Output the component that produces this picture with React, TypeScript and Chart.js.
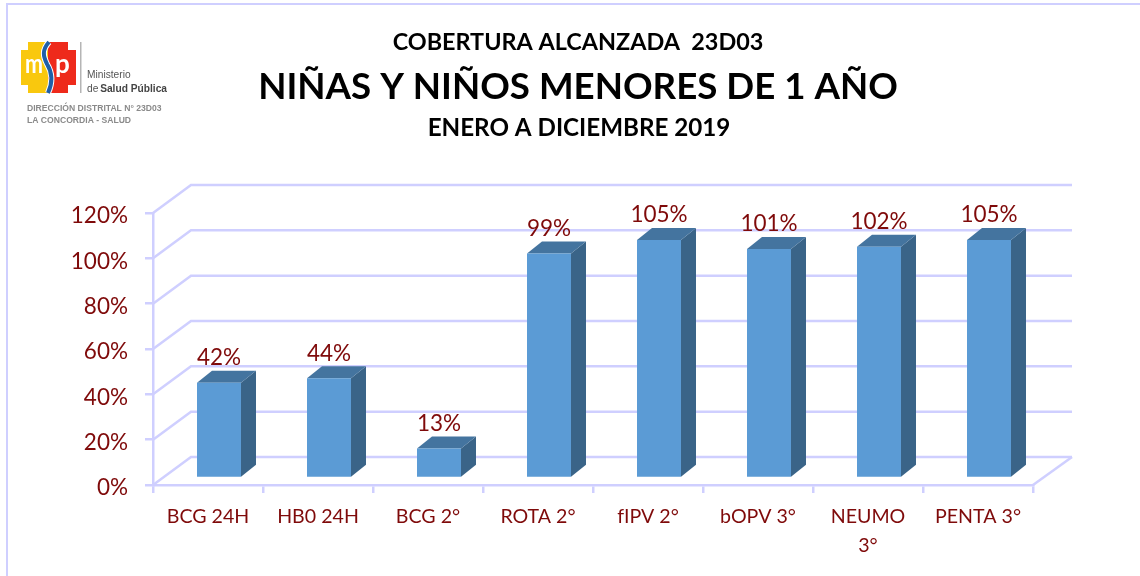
import React, { useEffect, useRef } from "react";
import { Chart, registerables } from "chart.js";

Chart.register(...registerables);

const categories: (string | string[])[] = ["BCG 24H", "HB0 24H", "BCG 2°", "ROTA 2°", "fIPV 2°", "bOPV 3°", ["NEUMO", "3°"], "PENTA 3°"];
const coverage = [42, 44, 13, 99, 105, 101, 102, 105];
const titleLine1 = "COBERTURA ALCANZADA  23D03";
const titleLine2 = "NIÑAS Y NIÑOS MENORES DE 1 AÑO";
const titleLine3 = "ENERO A DICIEMBRE 2019";
const logoLines = ["Ministerio", "de ", "Salud Pública", "DIRECCIÓN DISTRITAL N° 23D03", "LA CONCORDIA - SALUD"];

const GRID = "#CFCFFF";
const TEXT = "#7F0A0A";
const FRONT = "#5B9BD5";
const TOP = "#44749F";
const SIDE = "#3A6488";
const WALL_DX = 38;
const WALL_DY = -28;
const BAR_DX = 11;
const BAR_DY = -7;
const DEPTH_X = 15;
const DEPTH_Y = -12;
const FONT = "Lato, Carlito, sans-serif";

function drawLogo(ctx: CanvasRenderingContext2D) {
  ctx.save();
  const outline = (x0: number, x1: number, left: boolean) => {
    ctx.beginPath();
    if (left) {
      ctx.moveTo(x1, 42); ctx.lineTo(28, 42); ctx.lineTo(28, 50); ctx.lineTo(21, 50);
      ctx.lineTo(21, 85); ctx.lineTo(28, 85); ctx.lineTo(28, 93); ctx.lineTo(x1, 93);
    } else {
      ctx.moveTo(x0, 42); ctx.lineTo(68, 42); ctx.lineTo(68, 50); ctx.lineTo(76, 50);
      ctx.lineTo(76, 85); ctx.lineTo(68, 85); ctx.lineTo(68, 93); ctx.lineTo(x0, 93);
    }
    ctx.closePath();
    ctx.fill();
  };
  ctx.fillStyle = "#F9C80E";
  outline(21, 48, true);
  ctx.fillStyle = "#EE2A1B";
  outline(48, 76, false);
  const sCurve = () => {
    ctx.beginPath();
    ctx.moveTo(49, 42);
    ctx.bezierCurveTo(42, 50, 43, 56, 47, 64);
    ctx.bezierCurveTo(52, 72, 53, 82, 48, 93);
    ctx.stroke();
  };
  ctx.strokeStyle = "#FFFFFF";
  ctx.lineWidth = 6;
  sCurve();
  ctx.strokeStyle = "#1F5FA8";
  ctx.lineWidth = 4;
  sCurve();
  ctx.fillStyle = "#FFFFFF";
  ctx.textAlign = "left";
  ctx.textBaseline = "alphabetic";
  ctx.font = `bold 26px ${FONT}`;
  ctx.fillText("m", 25, 73, 18);
  ctx.fillText("p", 55, 73, 15);

  ctx.fillStyle = "#B5B5B5";
  ctx.fillRect(80, 42, 1.5, 51);

  ctx.fillStyle = "#555555";
  ctx.font = `10.2px "Liberation Sans", sans-serif`;
  ctx.fillText(logoLines[0], 87, 78);
  ctx.fillText(logoLines[1], 87, 92);
  const w = ctx.measureText(logoLines[1]).width;
  ctx.font = `bold 10.2px "Liberation Sans", sans-serif`;
  ctx.fillStyle = "#444444";
  ctx.fillText(logoLines[2], 87 + w - 1, 92);
  ctx.fillStyle = "#8A8A8A";
  ctx.font = `bold 8.6px "Liberation Sans", sans-serif`;
  ctx.fillText(logoLines[3], 27, 111);
  ctx.fillText(logoLines[4], 27, 123);
  ctx.restore();
}

const decorPlugin = {
  id: "decor",
  beforeDraw(chart: any) {
    const ctx: CanvasRenderingContext2D = chart.ctx;
    ctx.save();
    ctx.fillStyle = "#FFFFFF";
    ctx.fillRect(0, 0, chart.width, chart.height);
    ctx.fillStyle = GRID;
    ctx.fillRect(6, 3, chart.width - 6, 2);
    ctx.fillRect(6, 3, 2, chart.height - 3);
    ctx.fillStyle = "#000000";
    ctx.textAlign = "center";
    ctx.textBaseline = "middle";
    ctx.font = `bold 23.4px ${FONT}`;
    ctx.fillText(titleLine1, 578, 42);
    ctx.font = `bold 36.7px ${FONT}`;
    ctx.fillText(titleLine2, 578, 87);
    ctx.font = `bold 24.2px ${FONT}`;
    ctx.fillText(titleLine3, 579, 128);
    ctx.restore();
    drawLogo(ctx);
  },
  beforeDatasetsDraw(chart: any) {
    const ctx: CanvasRenderingContext2D = chart.ctx;
    const y = chart.scales.y;
    const { left, right, bottom } = chart.chartArea;
    ctx.save();
    ctx.strokeStyle = GRID;
    ctx.lineWidth = 2.5;
    y.ticks.forEach((t: any) => {
      const py = y.getPixelForValue(t.value);
      ctx.beginPath();
      ctx.moveTo(left, py);
      ctx.lineTo(left + WALL_DX, py + WALL_DY);
      ctx.lineTo(right + WALL_DX + 1, py + WALL_DY);
      ctx.stroke();
    });
    ctx.beginPath();
    ctx.moveTo(right, bottom);
    ctx.lineTo(right + WALL_DX + 1, bottom + WALL_DY);
    ctx.stroke();

    // side and top faces of each bar, from the bar elements
    chart.getDatasetMeta(0).data.forEach((bar: any) => {
      const { x, y: top, base, width } = bar.getProps(["x", "y", "base", "width"], true);
      const x1 = x + width / 2 + BAR_DX;
      const x0 = x - width / 2 + BAR_DX;
      const yt = top + BAR_DY;
      const yb = base + BAR_DY;
      ctx.fillStyle = SIDE;
      ctx.beginPath();
      ctx.moveTo(x1, yt);
      ctx.lineTo(x1 + DEPTH_X, yt + DEPTH_Y);
      ctx.lineTo(x1 + DEPTH_X, yb + DEPTH_Y);
      ctx.lineTo(x1, yb);
      ctx.closePath();
      ctx.fill();
      ctx.fillStyle = TOP;
      ctx.beginPath();
      ctx.moveTo(x0, yt);
      ctx.lineTo(x0 + DEPTH_X, yt + DEPTH_Y);
      ctx.lineTo(x1 + DEPTH_X, yt + DEPTH_Y);
      ctx.lineTo(x1, yt);
      ctx.closePath();
      ctx.fill();
    });
    ctx.restore();
    ctx.save();
    ctx.translate(BAR_DX, BAR_DY);
  },
  afterDatasetsDraw(chart: any) {
    const ctx: CanvasRenderingContext2D = chart.ctx;
    ctx.restore();
    ctx.save();
    ctx.fillStyle = TEXT;
    ctx.font = `22.5px ${FONT}`;
    ctx.textAlign = "center";
    ctx.textBaseline = "middle";
    chart.getDatasetMeta(0).data.forEach((bar: any, i: number) => {
      const { x, y } = bar.getProps(["x", "y"], true);
      ctx.fillText(`${coverage[i]}%`, x + BAR_DX, y + BAR_DY - 25);
    });
    ctx.restore();
  },
};

export default function App() {
  const ref = useRef<HTMLCanvasElement>(null);
  useEffect(() => {
    const chart = new Chart(ref.current!, {
      type: "bar",
      data: {
        labels: categories as any,
        datasets: [{ data: coverage, backgroundColor: FRONT, borderWidth: 0, barPercentage: 0.4, categoryPercentage: 1, clip: false as any }],
      },
      plugins: [decorPlugin],
      options: {
        responsive: false,
        animation: false,
        layout: { padding: { left: 0, top: 213, right: 107, bottom: 0 } },
        plugins: { legend: { display: false }, title: { display: false }, tooltip: { enabled: false } },
        scales: {
          x: {
            grid: { drawOnChartArea: false, drawTicks: true, tickLength: 8, color: GRID, lineWidth: 2.5 },
            border: { color: GRID, width: 2.5 },
            ticks: { color: TEXT, font: { family: FONT, size: 19.6, lineHeight: 1.5 }, padding: 9, maxRotation: 0, autoSkip: false },
            afterFit: (s: any) => { s.height = 91; },
          },
          y: {
            min: 0,
            max: 120,
            grid: { drawOnChartArea: false, drawTicks: true, tickLength: 8, color: GRID, lineWidth: 2.5 },
            border: { color: GRID, width: 2.5 },
            ticks: { stepSize: 20, color: TEXT, font: { family: FONT, size: 22.5 }, padding: 17, labelOffset: 3, callback: (v: any) => `${v}%` },
            afterFit: (s: any) => { s.width = 153; },
          },
        },
      },
    });
    return () => chart.destroy();
  }, []);
  return (
    <div style={{ position: "absolute", left: 0, top: 0, width: 1140, height: 576 }}>
      <canvas ref={ref} width={1140} height={576} style={{ display: "block" }} />
    </div>
  );
}
